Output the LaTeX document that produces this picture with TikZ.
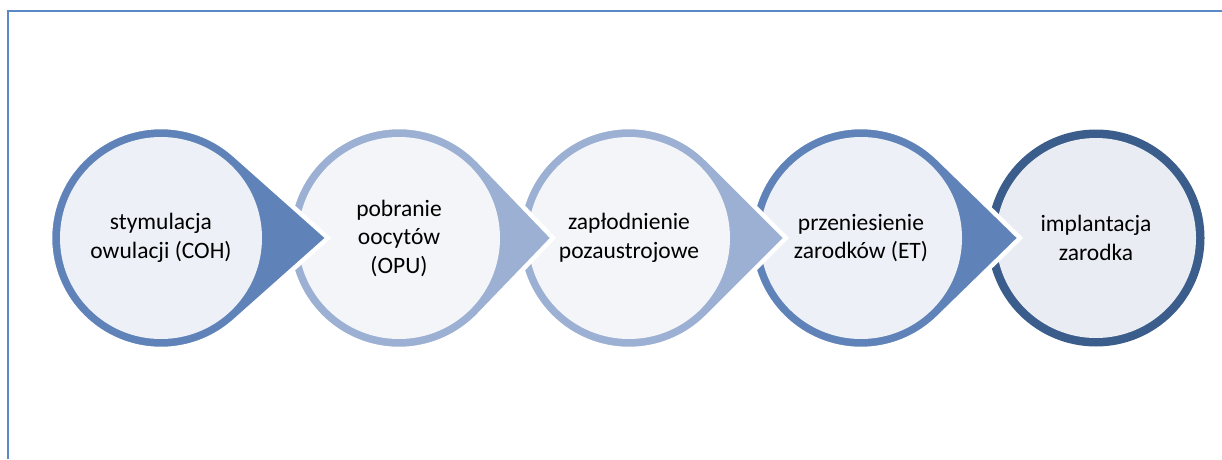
\documentclass[tikz,border=0pt]{standalone}
\usepackage{fontspec}
\setmainfont{Carlito}
\usepackage{xcolor}
\definecolor{frameblue}{HTML}{5A8AC6}
\definecolor{midblue}{HTML}{5F83B9}
\definecolor{paleblue}{HTML}{9BB0D2}
\definecolor{darkblue}{HTML}{3B5D8B}
\definecolor{fillA}{HTML}{EDF0F6}
\definecolor{fillB}{HTML}{F3F5F9}
\definecolor{fillC}{HTML}{E9ECF2}

\begin{document}
\begin{tikzpicture}[x=1pt,y=1pt,
	phase/.style={align=center, text=black, font=\fontsize{23.5}{28.5}\selectfont}]
	\useasboundingbox (0,0) rectangle (1222,459);
	\draw[frameblue, line width=2pt] (8,0) -- (8,448) -- (1222,448);

	% last step: plain ring, drawn first so the tip before it lies on top
	\coordinate (C5) at (1096,221);
	\fill[darkblue] (C5) circle[radius=108.5];
	\fill[fillC] (C5) circle[radius=100];

	% steps with a tip, from right to left
	\foreach \n/\cx/\tx/\ring/\inner in {4/861/1017/midblue/fillA, 3/629/783/paleblue/fillB, 2/399/550/paleblue/fillB, 1/161/325/midblue/fillA} {
		\coordinate (C\n) at (\cx,221);
		\coordinate (T\n) at (\tx+3,221);
		\pgfmathsetmacro\ang{acos(111/(\tx+3-\cx))}
		\fill[\ring, draw=white, line width=4.5pt] (T\n) -- ([shift={(C\n)}] \ang:111) arc[start angle=\ang, end angle=360-\ang, radius=111] -- cycle;
		\fill[\inner] (C\n) circle[radius=101];
	};

	\node[phase] (S1) at (C1) {stymulacja\\owulacji (COH)};
	\node[phase] (S2) at (C2) {pobranie\\oocytów\\(OPU)};
	\node[phase] (S3) at (C3) {zapłodnienie\\pozaustrojowe};
	\node[phase] (S4) at (C4) {przeniesienie\\zarodków (ET)};
	\node[phase] (S5) at (C5) {implantacja\\zarodka};
\end{tikzpicture}
\end{document}
